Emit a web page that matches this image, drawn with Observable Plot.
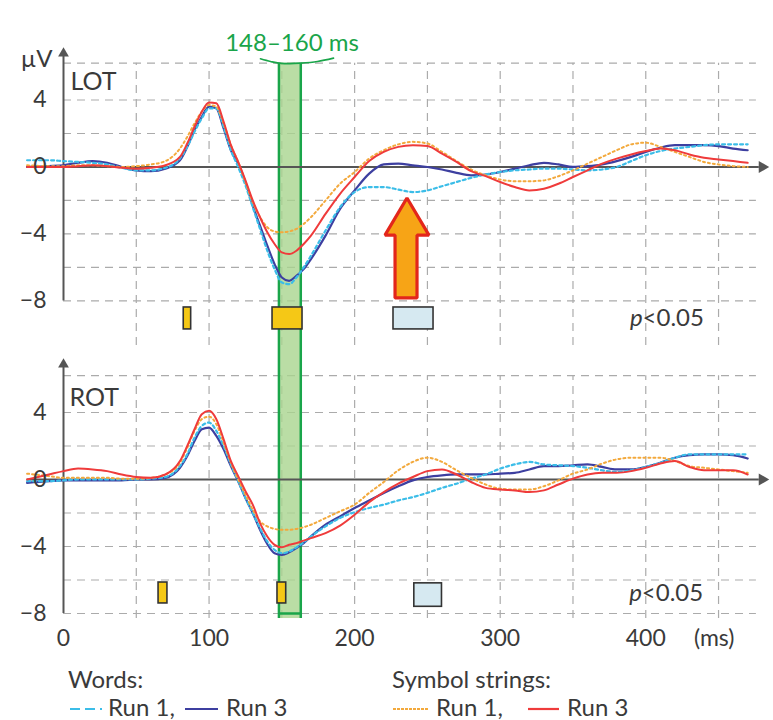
<!DOCTYPE html>
<html><head><meta charset="utf-8">
<script src="https://cdn.jsdelivr.net/npm/d3@7"></script>
<script src="https://cdn.jsdelivr.net/npm/@observablehq/plot@0.6"></script>
<style>
body{margin:0;background:#fff;}
#wrap{position:relative;width:773px;height:720px;font-family:Lato,sans-serif;color:#3a3a3a;overflow:hidden;}
#wrap svg{display:block;}
.lg{position:absolute;font-size:24px;line-height:24px;white-space:nowrap;}
.sw{position:absolute;}
</style></head><body>
<div id="wrap"><div id="top"></div><div id="bot"></div><div id="legend"></div></div>
<script>
// ---- time base (ms) ----
const t = [-25,-10,0,10,20,30,40,50,60,70,80,85,90,95,100,105,110,115,120,125,130,135,140,145,150,155,160,165,170,180,190,200,210,220,230,240,250,260,270,280,290,300,310,320,330,340,350,360,370,380,390,400,410,420,430,440,450,460,470];

// ---- LOT (µV) ----
const lotWordsRun1 = [0.4,0.4,0.35,0.3,0.25,0.15,-0.05,-0.2,-0.2,-0.05,0.5,1.2,2.1,2.9,3.5,3.5,2.4,1.0,0.0,-1.1,-2.4,-3.7,-5.0,-6.1,-6.9,-7.0,-6.6,-6.0,-5.3,-3.8,-2.4,-1.5,-1.2,-1.2,-1.35,-1.5,-1.4,-1.15,-0.9,-0.65,-0.45,-0.3,-0.2,-0.15,-0.1,-0.1,-0.15,-0.2,-0.15,0.0,0.35,0.7,0.95,1.1,1.2,1.3,1.35,1.35,1.35];
const lotWordsRun3 = [0.0,0.05,0.1,0.25,0.35,0.25,0.0,-0.2,-0.25,-0.1,0.4,1.2,2.2,3.0,3.6,3.5,2.3,1.0,0.2,-0.9,-2.3,-3.5,-4.7,-5.8,-6.6,-6.8,-6.5,-6.1,-5.5,-4.1,-2.5,-1.4,-0.4,0.15,0.2,0.1,0.0,-0.15,-0.35,-0.5,-0.45,-0.3,-0.1,0.1,0.25,0.15,0.0,0.05,0.15,0.35,0.6,0.9,1.15,1.3,1.3,1.3,1.25,1.1,1.0];
const lotSymRun1 = [0.1,0.05,0.05,0.1,0.1,0.05,0.0,0.05,0.15,0.35,1.1,1.8,2.6,3.3,3.7,3.6,2.6,1.3,0.3,-0.9,-2.1,-3.0,-3.6,-3.85,-3.9,-3.85,-3.7,-3.4,-3.0,-2.0,-1.0,-0.3,0.5,1.0,1.35,1.5,1.4,0.9,0.35,-0.15,-0.5,-0.75,-0.85,-0.85,-0.8,-0.55,-0.2,0.2,0.6,1.0,1.35,1.45,1.2,0.9,0.6,0.3,0.15,0.05,0.0];
const lotSymRun3 = [0.0,0.0,0.0,0.05,0.1,0.05,-0.05,-0.1,-0.05,0.1,0.6,1.4,2.4,3.3,3.85,3.8,2.7,1.3,0.3,-0.8,-2.0,-3.0,-3.9,-4.6,-5.1,-5.2,-5.0,-4.6,-4.1,-2.8,-1.6,-0.6,0.35,0.9,1.2,1.3,1.25,0.8,0.3,-0.25,-0.55,-0.9,-1.2,-1.4,-1.3,-1.0,-0.6,-0.2,0.2,0.5,0.75,0.95,1.1,1.0,0.75,0.55,0.45,0.35,0.25];

// ---- ROT (µV) ----
const rotWordsRun1 = [-0.1,-0.1,-0.05,0.0,0.0,0.0,0.0,0.0,0.05,0.15,0.8,1.5,2.5,3.2,3.4,2.9,2.0,0.9,-0.1,-1.1,-2.0,-2.9,-3.7,-4.2,-4.4,-4.3,-4.05,-3.75,-3.4,-2.8,-2.3,-1.95,-1.7,-1.5,-1.25,-1.05,-0.8,-0.5,-0.25,0.05,0.3,0.65,0.9,1.05,0.9,0.85,0.8,0.7,0.55,0.45,0.55,0.75,1.0,1.3,1.5,1.5,1.5,1.5,1.5];
const rotWordsRun3 = [-0.2,-0.1,-0.05,-0.05,-0.05,-0.05,-0.05,0.0,0.0,0.1,0.7,1.4,2.3,3.0,3.1,2.6,1.8,0.8,-0.1,-1.1,-2.0,-3.0,-3.85,-4.4,-4.5,-4.35,-4.1,-3.8,-3.4,-2.7,-2.2,-1.7,-1.25,-0.8,-0.4,-0.05,0.15,0.25,0.3,0.3,0.3,0.35,0.4,0.6,0.8,0.8,0.85,0.9,0.75,0.6,0.6,0.75,1.0,1.3,1.45,1.5,1.5,1.45,1.25];
const rotSymRun1 = [0.35,0.2,0.1,0.1,0.1,0.1,0.05,0.05,0.1,0.3,1.0,1.9,2.9,3.6,3.75,3.3,2.2,1.0,0.0,-0.9,-1.8,-2.5,-2.8,-2.95,-3.0,-3.0,-2.95,-2.85,-2.7,-2.3,-1.9,-1.5,-0.8,-0.15,0.55,1.05,1.3,1.05,0.55,0.1,-0.3,-0.55,-0.6,-0.6,-0.4,-0.05,0.35,0.6,0.95,1.2,1.3,1.3,1.3,1.1,0.8,0.7,0.6,0.5,0.4];
const rotSymRun3 = [0.0,0.3,0.5,0.65,0.6,0.5,0.3,0.15,0.1,0.3,1.1,2.0,3.0,3.9,4.1,3.6,2.4,1.1,0.2,-0.7,-1.5,-2.6,-3.4,-3.9,-4.05,-3.9,-3.8,-3.65,-3.5,-3.2,-2.75,-2.1,-1.35,-0.75,-0.25,0.15,0.5,0.6,0.3,-0.15,-0.5,-0.6,-0.65,-0.75,-0.65,-0.3,0.05,0.3,0.4,0.4,0.5,0.7,0.95,1.1,0.75,0.55,0.55,0.55,0.3];

// ---- axes / annotations ----
const yTicks = [4, 0, -4, -8];
const xTicks = [0, 100, 200, 300, 400];
const xUnitTick = 447;
const hGrid = [6.2, 4, 2, -2, -4, -6, -8];
const vGrid = [50, 100, 150, 200, 250, 300, 350, 400, 450];
const band = {start: 148, end: 163, label: "148–160 ms"};
const brace = [[135.3,6.46],[142.2,6.3],[148,6.2],[155.5,6.17],[163,6.2],[174.5,6.3],[185.5,6.5]];
const sigTop = [
  {x1: 82.6, x2: 87.7, y1: -8.39, y2: -9.7, kind: "sym"},
  {x1: 143.6, x2: 164.2, y1: -8.39, y2: -9.7, kind: "sym"},
  {x1: 226.7, x2: 254.2, y1: -8.39, y2: -9.7, kind: "words"}
];
const sigBot = [
  {x1: 65.3, x2: 71.4, y1: -6.15, y2: -7.4, kind: "sym"},
  {x1: 147, x2: 153, y1: -6.15, y2: -7.4, kind: "sym"},
  {x1: 241, x2: 260, y1: -6.2, y2: -7.6, kind: "words"}
];
const pTop = {x: 397.8, y: -9.05};
const pBot = {x: 397.3, y: -6.8};
const bigArrow = [
  {y: -7.85, x1: 228.1, x2: 243.2},
  {y: -4.1, x1: 228.1, x2: 243.2},
  {y: -4.1, x1: 221.2, x2: 251.4},
  {y: -1.88, x1: 236.3, x2: 236.3}
];

const C = {w1: "#3bbde8", w3: "#3d3fa0", s1: "#f3a93c", s3: "#ef3b3b", axis: "#555", grid: "#ababab", green: "#1aa54a", bandFill: "#a9d48f", yellow: "#f5c816", blueBox: "#d6e9f1", text: "#3a3a3a"};
const sigFill = k => k === "sym" ? C.yellow : C.blueBox;

const rows = arr => t.map((x, i) => ({t: x, v: arr[i]}));

function curves(w1, w3, s1, s3) {
  return [
    Plot.line(rows(w3), {x: "t", y: "v", stroke: C.w3, strokeWidth: 2.2, curve: "monotone-x"}),
    Plot.line(rows(w1), {x: "t", y: "v", stroke: C.w1, strokeWidth: 2.2, strokeDasharray: "3,3", curve: "monotone-x"}),
    Plot.line(rows(s1), {x: "t", y: "v", stroke: C.s1, strokeWidth: 2, strokeDasharray: "2,3", curve: "monotone-x"}),
    Plot.line(rows(s3), {x: "t", y: "v", stroke: C.s3, strokeWidth: 2, curve: "monotone-x"})
  ];
}

function common(yLo, yHi, arrowY) {
  return [
    Plot.ruleX(vGrid, {x: d => d, y1: yLo, y2: 6.2, stroke: C.grid, strokeWidth: 1.2, strokeDasharray: "8,6"}),
    Plot.ruleY(hGrid, {y: d => d, x1: 0, x2: 476, stroke: C.grid, strokeWidth: 1.2, strokeDasharray: "8,6"}),
    Plot.rect([band], {x1: "start", x2: "end", y1: yLo, y2: yHi, fill: C.bandFill, fillOpacity: 0.8}),
    Plot.ruleX([band.start, band.end], {x: d => d, y1: yLo, y2: yHi, stroke: C.green, strokeWidth: 2.5}),
    Plot.ruleX([0], {x: d => d, y1: -8, y2: arrowY, stroke: C.axis, strokeWidth: 2}),
    Plot.dot([0], {x: d => d, y: arrowY, symbol: "triangle", r: 4, fill: C.axis, stroke: null}),
    Plot.ruleY([0], {y: d => d, x1: -25, x2: 478, stroke: C.axis, strokeWidth: 2}),
    Plot.dot([0], {x: 480, y: d => d, symbol: "triangle", rotate: 90, r: 4.5, fill: C.axis, stroke: null})
  ];
}

const baseStyle = {fontFamily: "Lato, sans-serif", fontSize: "23px", color: C.text, background: "transparent", overflow: "visible"};

const topPlot = Plot.plot({
  width: 773, height: 345,
  marginLeft: 63, marginRight: 4, marginTop: 0, marginBottom: 0,
  x: {domain: [0, 485], axis: null},
  y: {domain: [-10.66, 9.94]},
  style: baseStyle,
  marks: [
    ...common(-10.66, 6.2, 6.78),
    Plot.line(brace, {x: d => d[0], y: d => d[1], stroke: C.green, strokeWidth: 1.6, curve: "monotone-x"}),
    Plot.text([band], {x: (band.start + band.end) / 2 - 0.5 + 2, y: 7.37, text: "label", fill: C.green, fontSize: 24}),
    ...curves(lotWordsRun1, lotWordsRun3, lotSymRun1, lotSymRun3),
    Plot.rect(sigTop, {x1: "x1", x2: "x2", y1: "y1", y2: "y2", fill: d => sigFill(d.kind), stroke: "#333", strokeWidth: 1.6}),
    Plot.text([pTop], {x: "x", y: "y", text: () => "p", fontStyle: "italic", textAnchor: "end", fontSize: 24, fill: C.text}),
    Plot.text([pTop], {x: "x", y: "y", text: () => "<0.05", textAnchor: "start", fontSize: 24, fill: C.text}),
    Plot.areaX(bigArrow, {y: "y", x1: "x1", x2: "x2", fill: "#f7a416", stroke: "#e3261b", strokeWidth: 3.2, strokeLinejoin: "miter", curve: "linear"}),
    Plot.text(["LOT"], {x: 4.8, y: 5.1, text: d => d, textAnchor: "start", fontSize: 25, fill: C.text}),
    Plot.text(["µV"], {x: -18.5, y: 6.45, text: d => d, fontSize: 24, fill: C.text}),
    Plot.axisY({ticks: yTicks, tickSize: 0, tickPadding: 17, fontSize: 23})
  ]
});

const botPlot = Plot.plot({
  width: 773, height: 305,
  marginLeft: 63, marginRight: 4, marginTop: 0, marginBottom: 30,
  x: {domain: [0, 485]},
  y: {domain: [-8.418, 8.0]},
  style: baseStyle,
  marks: [
    ...common(-8.3, 8.0, 6.87).map(m => m),
    Plot.ruleY([-8], {y: d => d, x1: band.start, x2: band.end, stroke: C.green, strokeWidth: 2.5}),
    ...curves(rotWordsRun1, rotWordsRun3, rotSymRun1, rotSymRun3),
    Plot.rect(sigBot, {x1: "x1", x2: "x2", y1: "y1", y2: "y2", fill: d => sigFill(d.kind), stroke: "#333", strokeWidth: 1.6}),
    Plot.text([pBot], {x: "x", y: "y", text: () => "p", fontStyle: "italic", textAnchor: "end", fontSize: 24, fill: C.text}),
    Plot.text([pBot], {x: "x", y: "y", text: () => "<0.05", textAnchor: "start", fontSize: 24, fill: C.text}),
    Plot.text(["ROT"], {x: 4.2, y: 4.84, text: d => d, textAnchor: "start", fontSize: 25, fill: C.text}),
    Plot.axisY({ticks: yTicks, tickSize: 0, tickPadding: 17, fontSize: 23}),
    Plot.axisX({ticks: [...xTicks, xUnitTick], tickSize: 0, tickPadding: 9, fontSize: 23,
      tickFormat: d => d === xUnitTick ? "(ms)" : String(d)})
  ]
});

// the bottom panel's band must not be clipped at its top edge: draw it up to the SVG top (8.0)
document.getElementById("top").appendChild(topPlot);
document.getElementById("bot").appendChild(botPlot);

// ---- legend ----
const legendGroups = [
  {title: "Words:", left: 68, items: [
    {label: "Run 1,", color: C.w1, dash: "10,5", swLeft: 70, swW: 32, txtLeft: 108},
    {label: "Run 3", color: C.w3, dash: null, swLeft: 185, swW: 33, txtLeft: 226}
  ]},
  {title: "Symbol strings:", left: 392, items: [
    {label: "Run 1,", color: C.s1, dash: "3,1", swLeft: 393, swW: 35, txtLeft: 436},
    {label: "Run 3", color: C.s3, dash: null, swLeft: 528, swW: 31, txtLeft: 567}
  ]}
];
const lg = document.getElementById("legend");
for (const g of legendGroups) {
  const h = document.createElement("div");
  h.className = "lg"; h.textContent = g.title;
  h.style.left = g.left + "px"; h.style.top = "667px";
  lg.appendChild(h);
  for (const it of g.items) {
    const s = d3.create("svg").attr("class", "sw").attr("width", it.swW).attr("height", 6)
      .style("left", it.swLeft + "px").style("top", "706px");
    s.append("line").attr("x1", 0).attr("x2", it.swW).attr("y1", 3).attr("y2", 3)
      .attr("stroke", it.color).attr("stroke-width", 2.2).attr("stroke-dasharray", it.dash);
    lg.appendChild(s.node());
    const tx = document.createElement("div");
    tx.className = "lg"; tx.textContent = it.label;
    tx.style.left = it.txtLeft + "px"; tx.style.top = "695px";
    lg.appendChild(tx);
  }
}
</script>
</body></html>
